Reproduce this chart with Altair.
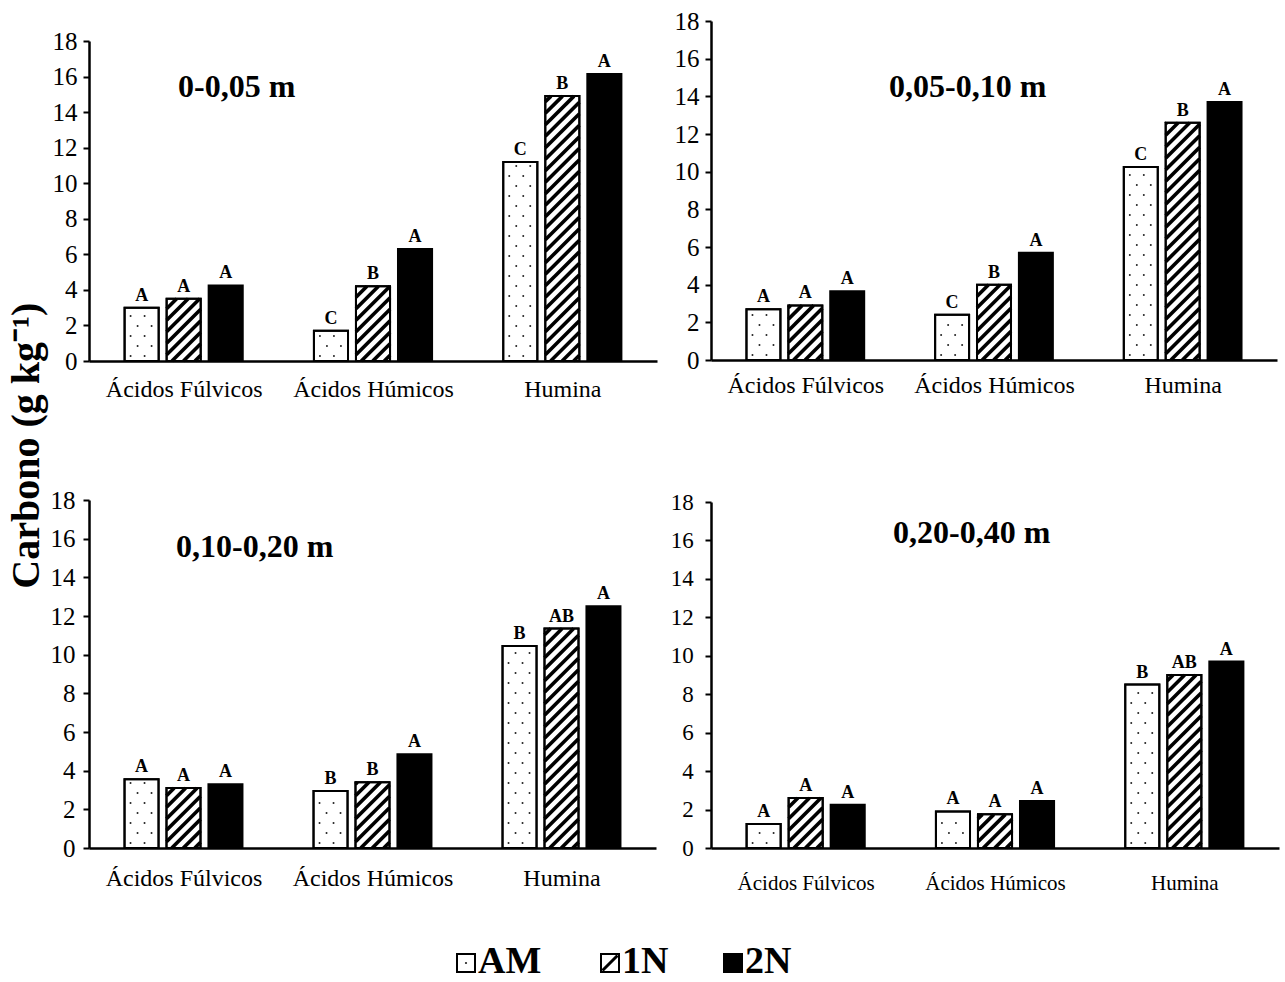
import altair as alt
import pandas as pd

# ---------------------------------------------------------------------------
# Data: carbon in humic substance fractions (g kg-1) by soil depth
# ---------------------------------------------------------------------------
FRACTIONS = ["Ácidos Fúlvicos", "Ácidos Húmicos", "Humina"]
SERIES = ["AM", "1N", "2N"]
DEPTHS = ["0-0,05 m", "0,05-0,10 m", "0,10-0,20 m", "0,20-0,40 m"]

# one row per fraction, one value per treatment (AM, 1N, 2N)
CARBON_0_005 = [[3.0, 3.5, 4.25], [1.7, 4.2, 6.3], [11.2, 14.9, 16.15]]
CARBON_005_010 = [[2.7, 2.9, 3.65], [2.4, 4.0, 5.7], [10.25, 12.6, 13.7]]
CARBON_010_020 = [[3.55, 3.1, 3.3], [2.95, 3.4, 4.85], [10.45, 11.35, 12.5]]
CARBON_020_040 = [[1.25, 2.6, 2.25], [1.9, 1.75, 2.45], [8.5, 9.0, 9.7]]

# mean-comparison letters, same layout as the values
LETTERS_0_005 = [["A", "A", "A"], ["C", "B", "A"], ["C", "B", "A"]]
LETTERS_005_010 = [["A", "A", "A"], ["C", "B", "A"], ["C", "B", "A"]]
LETTERS_010_020 = [["A", "A", "A"], ["B", "B", "A"], ["B", "AB", "A"]]
LETTERS_020_040 = [["A", "A", "A"], ["A", "A", "A"], ["B", "AB", "A"]]

Y_TICKS = list(range(0, 19, 2))
Y_MAX = 18

# ---------------------------------------------------------------------------
# Styling
# ---------------------------------------------------------------------------
FONT = "Liberation Serif"
BAR_W = 0.18      # bar width, fraction of a category band
BAR_STEP = 0.222  # distance between neighbouring bars, fraction of a band
HATCH_STEP = 11.5  # vertical distance between hatch lines (px)
DOT_ROW = 10       # vertical distance between dot rows (px)


def bar_table(values, letters):
    rows = []
    for g, frac in enumerate(FRACTIONS):
        for j, s in enumerate(SERIES):
            c = g + 0.5 + (j - 1) * BAR_STEP
            rows.append(dict(fraction=frac, series=s, value=values[g][j],
                             letter=letters[g][j], xc=c,
                             x0=c - BAR_W / 2, x1=c + BAR_W / 2))
    return pd.DataFrame(rows)


def dot_table(bars, W, H):
    """Dotted fill for the AM bars, laid out in pixel steps."""
    pxx, pxy = W / 3, H / Y_MAX
    rows = []
    for b in bars[bars.series == "AM"].itertuples():
        h = b.value * pxy
        k, y = 0, 5.0
        while y < h - 3:
            for o in ([6, 20] if k % 2 == 0 else [13, 27]):
                rows.append(dict(x=b.x0 + o / pxx, y=y / pxy))
            y += DOT_ROW
            k += 1
    return pd.DataFrame(rows)


def hatch_table(bars, W, H):
    """45-degree hatching for the 1N bars, clipped to each bar."""
    pxx, pxy = W / 3, H / Y_MAX
    rows = []
    for b in bars[bars.series == "1N"].itertuples():
        w = (b.x1 - b.x0) * pxx
        h = b.value * pxy
        c = -w + HATCH_STEP / 2
        while c < h:
            xs, xe = max(0.0, -c), min(w, h - c)
            if xe - xs > 1:
                rows.append(dict(x=b.x0 + xs / pxx, y=(xs + c) / pxy,
                                 x2=b.x0 + xe / pxx, y2=(xe + c) / pxy))
            c += HATCH_STEP
    return pd.DataFrame(rows)


LABEL_EXPR = "[" + ",".join("'%s'" % f for f in FRACTIONS) + "][floor(datum.value)]"


def panel(values, letters, depth, W, H, title_xy, ytick_size, ylabel_pad,
          xlab_size, xlab_pad):
    bars = bar_table(values, letters)
    xs = alt.Scale(domain=[0, 3], nice=False, zero=False)
    ys = alt.Scale(domain=[0, Y_MAX], nice=False)
    x_axis = alt.Axis(values=[0.5, 1.5, 2.5], labelExpr=LABEL_EXPR, ticks=False,
                      grid=False, domainColor="black", domainWidth=2.5,
                      labelFont=FONT, labelFontSize=xlab_size, labelColor="black",
                      labelPadding=xlab_pad, labelFlush=False, labelOverlap=False,
                      labelBound=False, title=None)
    y_axis = alt.Axis(values=Y_TICKS, grid=False, domainColor="black", domainWidth=2.5,
                      tickColor="black", tickSize=6, tickWidth=2, labelFont=FONT,
                      labelFontSize=ytick_size, labelColor="black",
                      labelPadding=ylabel_pad, title=None)

    def X(f):
        return alt.X(f, scale=xs, axis=x_axis)

    def Y(f):
        return alt.Y(f, scale=ys, axis=y_axis)

    base = alt.Chart(bars)
    fill = base.mark_rect(stroke="black", strokeWidth=2).encode(
        x=X("x0:Q"), x2="x1:Q", y=Y("value:Q"), y2=alt.datum(0),
        fill=alt.Fill("series:N", scale=alt.Scale(domain=SERIES,
                      range=["white", "white", "black"]), legend=None),
    )
    dots = alt.Chart(dot_table(bars, W, H)).mark_circle(
        size=4, color="#222", opacity=1).encode(x=X("x:Q"), y=Y("y:Q"))
    hatch = alt.Chart(hatch_table(bars, W, H)).mark_rule(
        color="black", strokeWidth=3.6, strokeCap="butt").encode(
        x=X("x:Q"), x2="x2:Q", y=Y("y:Q"), y2="y2:Q")
    outline = base.transform_filter(alt.datum.series != "2N").mark_rect(
        filled=False, stroke="black", strokeWidth=2).encode(
        x=X("x0:Q"), x2="x1:Q", y=Y("value:Q"), y2=alt.datum(0))
    letters_txt = base.mark_text(font=FONT, fontWeight="bold", fontSize=18,
                                 baseline="bottom", dy=-3, color="black").encode(
        x=X("xc:Q"), y=Y("value:Q"), text="letter:N")
    ttl = alt.Chart(pd.DataFrame({"depth": [depth]})).mark_text(
        font=FONT, fontWeight="bold", fontSize=32, align="left",
        baseline="alphabetic", color="black").encode(
        x=alt.value(title_xy[0]), y=alt.value(title_xy[1]), text="depth:N")

    return alt.layer(fill, dots, hatch, outline, letters_txt, ttl).properties(
        width=W, height=H)


p1 = panel(CARBON_0_005, LETTERS_0_005, DEPTHS[0], 568, 320, (89, 56), 25, 6, 24, 16.5)
p2 = panel(CARBON_005_010, LETTERS_005_010, DEPTHS[1], 566, 339, (178, 75.6), 25, 6, 24, 13.3)
p3 = panel(CARBON_010_020, LETTERS_010_020, DEPTHS[2], 567, 348, (87, 57), 25, 8, 24, 18.3)
p4 = panel(CARBON_020_040, LETTERS_020_040, DEPTHS[3], 568, 346, (182, 41), 23, 11.7, 21, 24)

# empty strip that lowers the first panel
spacer = alt.Chart(pd.DataFrame({"v": [0]})).mark_rule(opacity=0).encode(
    x=alt.value(0), y=alt.value(0), y2=alt.value(8)).properties(width=1, height=8)

left = alt.vconcat(
    alt.vconcat(spacer, p1, spacing=0), p3, spacing=86,
    title=alt.TitleParams("Carbono (g kg⁻¹)", orient="left", anchor="middle",
                          font=FONT, fontSize=40, fontWeight="bold",
                          color="black", offset=3, dx=10),
)
right = alt.vconcat(p2, p4, spacing=93)
panels = alt.hconcat(left, right, spacing=13)

# treatment key
LEG_X = [368, 512, 635]
SQ = 18
one = pd.DataFrame({"v": [0]})
key_layers = []
for i, s in enumerate(SERIES):
    x0 = LEG_X[i]
    key_layers.append(alt.Chart(one).mark_rect(
        fill="black" if s == "2N" else "white", stroke="black", strokeWidth=2).encode(
        x=alt.value(x0), x2=alt.value(x0 + SQ), y=alt.value(13), y2=alt.value(13 + SQ)))
    if s == "AM":
        key_layers.append(alt.Chart(one).mark_circle(size=5, color="#222", opacity=1).encode(
            x=alt.value(x0 + SQ / 2), y=alt.value(13 + SQ / 2)))
    if s == "1N":
        key_layers.append(alt.Chart(one).mark_rule(color="black", strokeWidth=3).encode(
            x=alt.value(x0 + 1.5), y=alt.value(13 + SQ - 1.5),
            x2=alt.value(x0 + SQ - 1.5), y2=alt.value(14.5)))
    key_layers.append(alt.Chart(pd.DataFrame({"s": [s]})).mark_text(
        font=FONT, fontWeight="bold", fontSize=38, align="left",
        baseline="alphabetic", color="black").encode(
        x=alt.value(x0 + SQ + 3), y=alt.value(32), text="s:N"))
key = alt.layer(*key_layers).properties(width=900, height=40)

chart = alt.vconcat(panels, key, spacing=48).properties(
    padding={"left": 6, "top": 9, "right": 2, "bottom": 5},
).configure_view(stroke=None)

chart.save("out.html", embed_options={"renderer": "svg", "actions": False})
